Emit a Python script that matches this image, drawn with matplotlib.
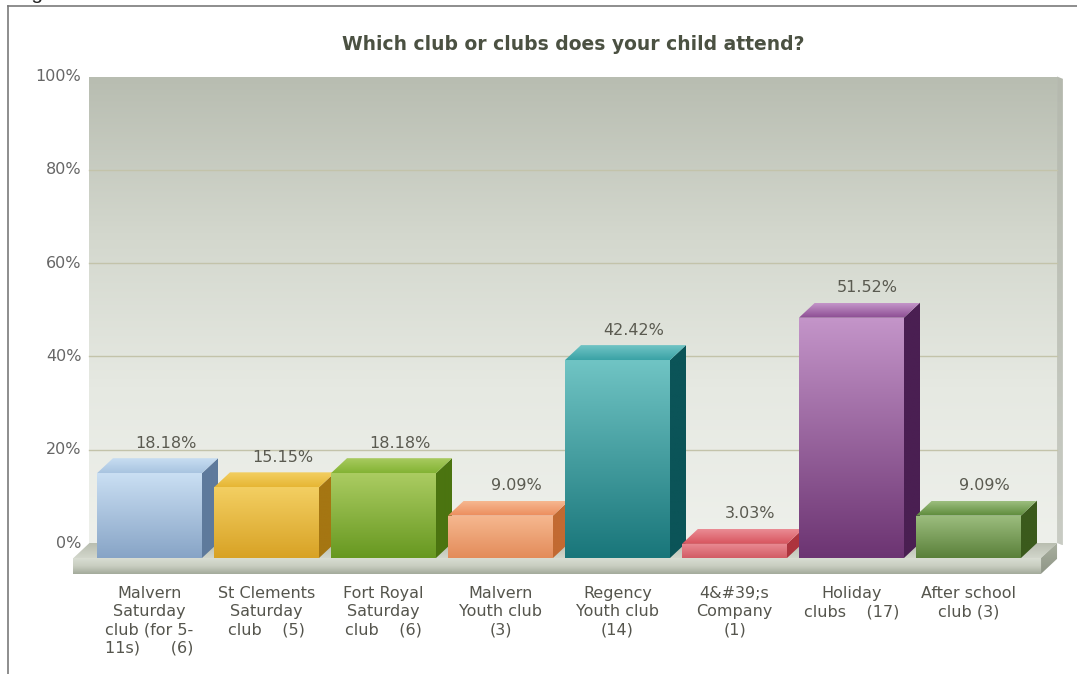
import numpy as np
import matplotlib.pyplot as plt
from matplotlib.patches import Polygon
from matplotlib.colors import LinearSegmentedColormap
from matplotlib.lines import Line2D

# survey results
categories = [
    "Malvern\nSaturday\nclub (for 5-\n11s)      (6)",
    "St Clements\nSaturday\nclub    (5)",
    "Fort Royal\nSaturday\nclub    (6)",
    "Malvern\nYouth club\n(3)",
    "Regency\nYouth club\n(14)",
    "4&#39;s\nCompany\n(1)",
    "Holiday\nclubs    (17)",
    "After school\nclub (3)",
]
percents = [18.18, 15.15, 18.18, 9.09, 42.42, 3.03, 51.52, 9.09]
y_ticks = [0, 20, 40, 60, 80, 100]

# bar colours: front top, front bottom, side, top face
front_top = ["#cadff3", "#f3cf62", "#abcc62", "#f6b890", "#70c4c4", "#ea8c94", "#c495c9", "#9dbe7f"]
front_bot = ["#87a4c6", "#d8a225", "#679820", "#e38c5a", "#19767a", "#d25c65", "#6c3472", "#5a803a"]
side_col = ["#5e7a9c", "#a57612", "#4b7410", "#c26a32", "#0b5458", "#ad343e", "#4a1f52", "#3b5a1c"]
top_col = ["#a8c4e0", "#e6b634", "#83b334", "#ec8c5c", "#3aa2a6", "#d8545e", "#8b4c92", "#5c8a3a"]

W, H = 1077, 674
fig = plt.figure(figsize=(W / 100, H / 100), dpi=100)
ax = fig.add_axes([0, 0, 1, 1])
ax.axis("off")

# scale: one category per 117 px, 4.665 px per percent
step, x0 = 117.0, 149.5
ppu, base = 4.665, 558.0
DX = 16 / step   # depth offset, x
DY = 15 / ppu    # depth offset, y
BW = 105 / step  # bar width
SLAB = 3.4       # floor thickness
FS = 11.5

floor_l, floor_r = -0.65, 7.62
wall_l, wall_r = floor_l + DX, floor_r + DX


def grad_fill(verts, colors, z, horizontal=False):
    poly = Polygon(verts, closed=True, fc="none", ec="none", zorder=z)
    ax.add_patch(poly)
    xs = [v[0] for v in verts]
    ys = [v[1] for v in verts]
    cmap = LinearSegmentedColormap.from_list("g", colors)
    g = np.linspace(0, 1, 200)
    g = g.reshape(1, -1) if horizontal else g.reshape(-1, 1)
    im = ax.imshow(g, extent=(min(xs), max(xs), min(ys), max(ys)), origin="lower",
                   cmap=cmap, aspect="auto", interpolation="bilinear", zorder=z)
    im.set_clip_path(poly)


# back wall
grad_fill([(wall_l, DY), (wall_r, DY), (wall_r, 100 + DY), (wall_l, 100 + DY)],
          ["#eef0eb", "#e6e9e2", "#d3d7cd", "#b8bdb1"], 1)
grad_fill([(wall_r, DY), (wall_r + 0.05, DY - 0.5), (wall_r + 0.05, 100 + DY - 0.5), (wall_r, 100 + DY)],
          ["#c9ccc4", "#b5b9ae"], 1)
for t in y_ticks[1:-1]:
    ax.plot([wall_l, wall_r], [t + DY, t + DY], color="#c3c3aa", lw=1, zorder=2)

# floor slab
grad_fill([(floor_l, 0), (floor_r, 0), (wall_r, DY), (wall_l, DY)],
          ["#d2d6cb", "#b9beb0"], 3)
grad_fill([(floor_l, -SLAB), (floor_r, -SLAB), (floor_r, 0), (floor_l, 0)],
          ["#a3aa9b", "#c8cdc0", "#d9ddd3"], 3)
grad_fill([(floor_r, -SLAB), (wall_r, DY - SLAB), (wall_r, DY), (floor_r, 0)],
          ["#8f9687", "#a9af9f"], 3)

# bars
for i, v in enumerate(percents):
    z = 5 + i
    l, r = i - BW / 2, i + BW / 2
    grad_fill([(r, 0), (r + DX, DY), (r + DX, v + DY), (r, v)],
              [side_col[i], side_col[i]], z)
    grad_fill([(l, v), (r, v), (r + DX, v + DY), (l + DX, v + DY)],
              [top_col[i], front_top[i]], z)
    grad_fill([(l, 0), (r, 0), (r, v), (l, v)],
              [front_bot[i], front_top[i]], z)
    ax.text(i + DX, v + DY + 3.2, f"{v:.2f}%", ha="center", va="center",
            fontsize=FS, color="#5a5a50", zorder=20)
    ax.text(i, -6.0, categories[i], ha="center", va="top", fontsize=FS,
            color="#55554d", linespacing=1.27, zorder=20)

for t in y_ticks:
    ax.text(wall_l - 8 / step, t + DY, f"{t}%", ha="right", va="center",
            fontsize=FS, color="#666666")

ax.set_xlim(-x0 / step, (W - x0) / step)
ax.set_ylim((base - H) / ppu, base / ppu)

fig.text(573 / W, 1 - 45 / H, "Which club or clubs does your child attend?",
         ha="center", va="center", fontsize=13.5, fontweight="bold", color="#4b5142")

# outer frame and caption running off the top edge
fig.add_artist(Line2D([8 / W, 1], [1 - 6 / H, 1 - 6 / H], color="#7a7a7a", lw=1.2))
fig.add_artist(Line2D([8 / W, 8 / W], [0, 1 - 6 / H], color="#7a7a7a", lw=1.2))
fig.text(14 / W, 1 + 1 / H, "Figure", ha="left", va="baseline",
         fontsize=15, family="Liberation Sans", color="#222222")

fig.savefig("out.png", dpi=100)
